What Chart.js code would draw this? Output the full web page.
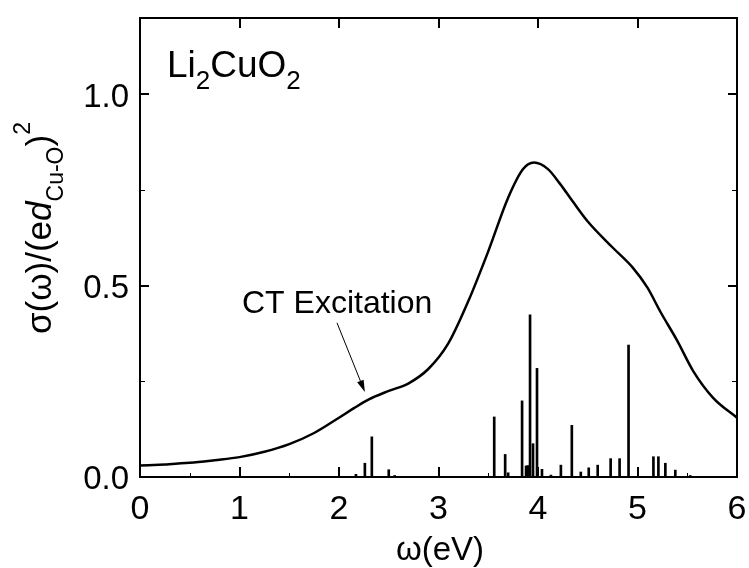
<!DOCTYPE html>
<html>
<head>
<meta charset="utf-8">
<script src="https://cdn.jsdelivr.net/npm/chart.js@4.4.1/dist/chart.umd.min.js"></script>
<style>
  html, body { margin: 0; padding: 0; background: #fff; }
  #wrap { width: 749px; height: 568px; }
</style>
</head>
<body>
<div id="wrap"><canvas id="chart"></canvas></div>
<script>
// conductivity curve (eV, value)
const curveX = [0, 0.25, 0.5, 0.75, 1.0, 1.25, 1.5, 1.75, 2.0, 2.15, 2.3, 2.5, 2.7, 2.9, 3.1, 3.3, 3.5, 3.7, 3.85, 3.96, 4.1, 4.22, 4.35, 4.5, 4.75, 4.95, 5.1, 5.23, 5.4, 5.56, 5.76, 6.0];
const curveY = [0.030, 0.033, 0.037, 0.044, 0.052, 0.066, 0.086, 0.115, 0.155, 0.180, 0.203, 0.225, 0.245, 0.283, 0.350, 0.460, 0.590, 0.730, 0.805, 0.822, 0.805, 0.767, 0.720, 0.668, 0.600, 0.548, 0.495, 0.432, 0.356, 0.277, 0.207, 0.155];

// oscillator strengths (sticks)
const stickX = [2.17, 2.26, 2.33, 2.50, 2.56, 3.56, 3.67, 3.70, 3.84, 3.88, 3.90, 3.92, 3.95, 3.99, 4.04, 4.13, 4.23, 4.34, 4.43, 4.51, 4.60, 4.73, 4.82, 4.91, 5.16, 5.21, 5.28, 5.38, 5.53];
const stickY = [0.007, 0.036, 0.105, 0.019, 0.004, 0.157, 0.059, 0.011, 0.199, 0.029, 0.030, 0.424, 0.087, 0.284, 0.020, 0.005, 0.031, 0.135, 0.013, 0.024, 0.031, 0.048, 0.048, 0.345, 0.053, 0.053, 0.036, 0.018, 0.004];

const xTicks = [0, 1, 2, 3, 4, 5, 6];
const xMinor = [0.5, 1.5, 2.5, 3.5, 4.5, 5.5];
const yTicks = [0, 0.5, 1.0];
const yMinor = [0.25, 0.75];

const FONT = "'Liberation Sans', Arial, sans-serif";

// frame, inward ticks, tick labels, titles
const decor = {
  id: 'decor',
  afterDraw(chart) {
    const ctx = chart.ctx;
    const x = chart.scales.x, y = chart.scales.y;
    const L = x.left, R = x.right, T = y.top, B = y.bottom;
    ctx.save();
    ctx.fillStyle = '#000';
    ctx.strokeStyle = '#000';
    // frame
    ctx.fillRect(L - 1, T - 1, R - L + 2, 2);
    ctx.fillRect(L - 1, B - 1, R - L + 2, 2);
    ctx.fillRect(L - 1, T - 1, 2, B - T + 2);
    ctx.fillRect(R - 1, T - 1, 2, B - T + 2);
    // major ticks on top and bottom
    ctx.lineWidth = 2;
    ctx.beginPath();
    for (const v of xTicks) {
      const px = Math.round(x.getPixelForValue(v));
      ctx.moveTo(px, B);
      ctx.lineTo(px, B - 10);
      ctx.moveTo(px, T);
      ctx.lineTo(px, T + 10);
    }
    ctx.stroke();
    yTicks.forEach(v => {
      const py = Math.round(y.getPixelForValue(v));
      ctx.fillRect(L, py - 1, 9, 2);
      ctx.fillRect(R - 9, py - 1, 9, 2);
    });
    // minor ticks
    xMinor.forEach(v => {
      const px = Math.round(x.getPixelForValue(v));
      ctx.fillRect(px, B - 4, 1, 4);
    });
    yMinor.forEach(v => {
      const py = Math.round(y.getPixelForValue(v));
      ctx.fillRect(L, py, 5, 1);
      ctx.fillRect(R - 5, py, 5, 1);
    });

    // tick labels
    ctx.textBaseline = 'alphabetic';
    ctx.font = '34px ' + FONT;
    ctx.textAlign = 'center';
    xTicks.forEach(v => ctx.fillText(String(v), x.getPixelForValue(v), B + 42));
    ctx.textAlign = 'right';
    ctx.font = '33px ' + FONT;
    yTicks.forEach(v => ctx.fillText(v.toFixed(1), L - 11, y.getPixelForValue(v) + 12));

    // arrow to the CT shoulder
    const x0 = x.getPixelForValue(1.98), y0 = y.getPixelForValue(0.403);
    const x1 = x.getPixelForValue(2.26), y1 = y.getPixelForValue(0.222);
    const ang = Math.atan2(y1 - y0, x1 - x0);
    ctx.lineWidth = 1;
    ctx.beginPath();
    ctx.moveTo(x0, y0); ctx.lineTo(x1 - 10 * Math.cos(ang), y1 - 10 * Math.sin(ang));
    ctx.stroke();
    ctx.beginPath();
    ctx.moveTo(x1, y1);
    ctx.lineTo(x1 - 12 * Math.cos(ang) + 3.5 * Math.sin(ang), y1 - 12 * Math.sin(ang) - 3.5 * Math.cos(ang));
    ctx.lineTo(x1 - 12 * Math.cos(ang) - 3.5 * Math.sin(ang), y1 - 12 * Math.sin(ang) + 3.5 * Math.cos(ang));
    ctx.closePath();
    ctx.fill();

    ctx.textAlign = 'left';
    ctx.font = '32px ' + FONT;
    ctx.fillText('CT Excitation', 242, 313);

    // Li2CuO2
    let cx = 167;
    const parts = [['Li', 0, 37], ['2', 12, 26], ['CuO', 0, 37], ['2', 12, 26]];
    parts.forEach(([t, dy, fs]) => {
      ctx.font = fs + 'px ' + FONT;
      ctx.fillText(t, cx, 77 + dy);
      cx += ctx.measureText(t).width;
    });

    // x title
    ctx.font = '33px ' + FONT;
    ctx.textAlign = 'center';
    ctx.fillText('ω(eV)', 440, 560);

    // y title, rotated
    ctx.translate(51, 334);
    ctx.rotate(-Math.PI / 2);
    ctx.textAlign = 'left';
    const yParts = [
      ['σ(ω)/(e', 0, '35px ' + FONT],
      ['d', 0, 'italic 35px ' + FONT],
      ['Cu-O', 12, '23px ' + FONT],
      [')', 0, '35px ' + FONT],
      ['2', -21, '23px ' + FONT]
    ];
    let tx = 0;
    yParts.forEach(([t, dy, f]) => {
      ctx.font = f;
      ctx.fillText(t, tx, dy);
      tx += ctx.measureText(t).width;
    });
    ctx.restore();
  }
};

new Chart(document.getElementById('chart'), {
  type: 'bar',
  data: {
    datasets: [
      {
        type: 'line',
        data: curveX.map((v, i) => ({ x: v, y: curveY[i] })),
        borderColor: '#000',
        borderWidth: 2.5,
        pointRadius: 0,
        cubicInterpolationMode: 'monotone',
        fill: false,
        order: 0
      },
      {
        type: 'bar',
        data: stickX.map((v, i) => ({ x: v, y: stickY[i] })),
        backgroundColor: '#000',
        barThickness: 2,
        order: 1
      }
    ]
  },
  options: {
    responsive: true,
    maintainAspectRatio: false,
    animation: false,
    layout: { padding: { left: 0, right: 12, top: 18, bottom: 0 } },
    plugins: { legend: { display: false }, tooltip: { enabled: false } },
    scales: {
      x: {
        type: 'linear',
        min: 0, max: 6,
        offset: false,
        grid: { display: false, drawTicks: false },
        border: { display: false },
        ticks: { display: false },
        afterFit: s => { s.height = 91; }
      },
      y: {
        type: 'linear',
        min: 0, max: 1.2,
        grid: { display: false, drawTicks: false },
        border: { display: false },
        ticks: { display: false },
        afterFit: s => { s.width = 140; }
      }
    }
  },
  plugins: [decor]
});
</script>
</body>
</html>
